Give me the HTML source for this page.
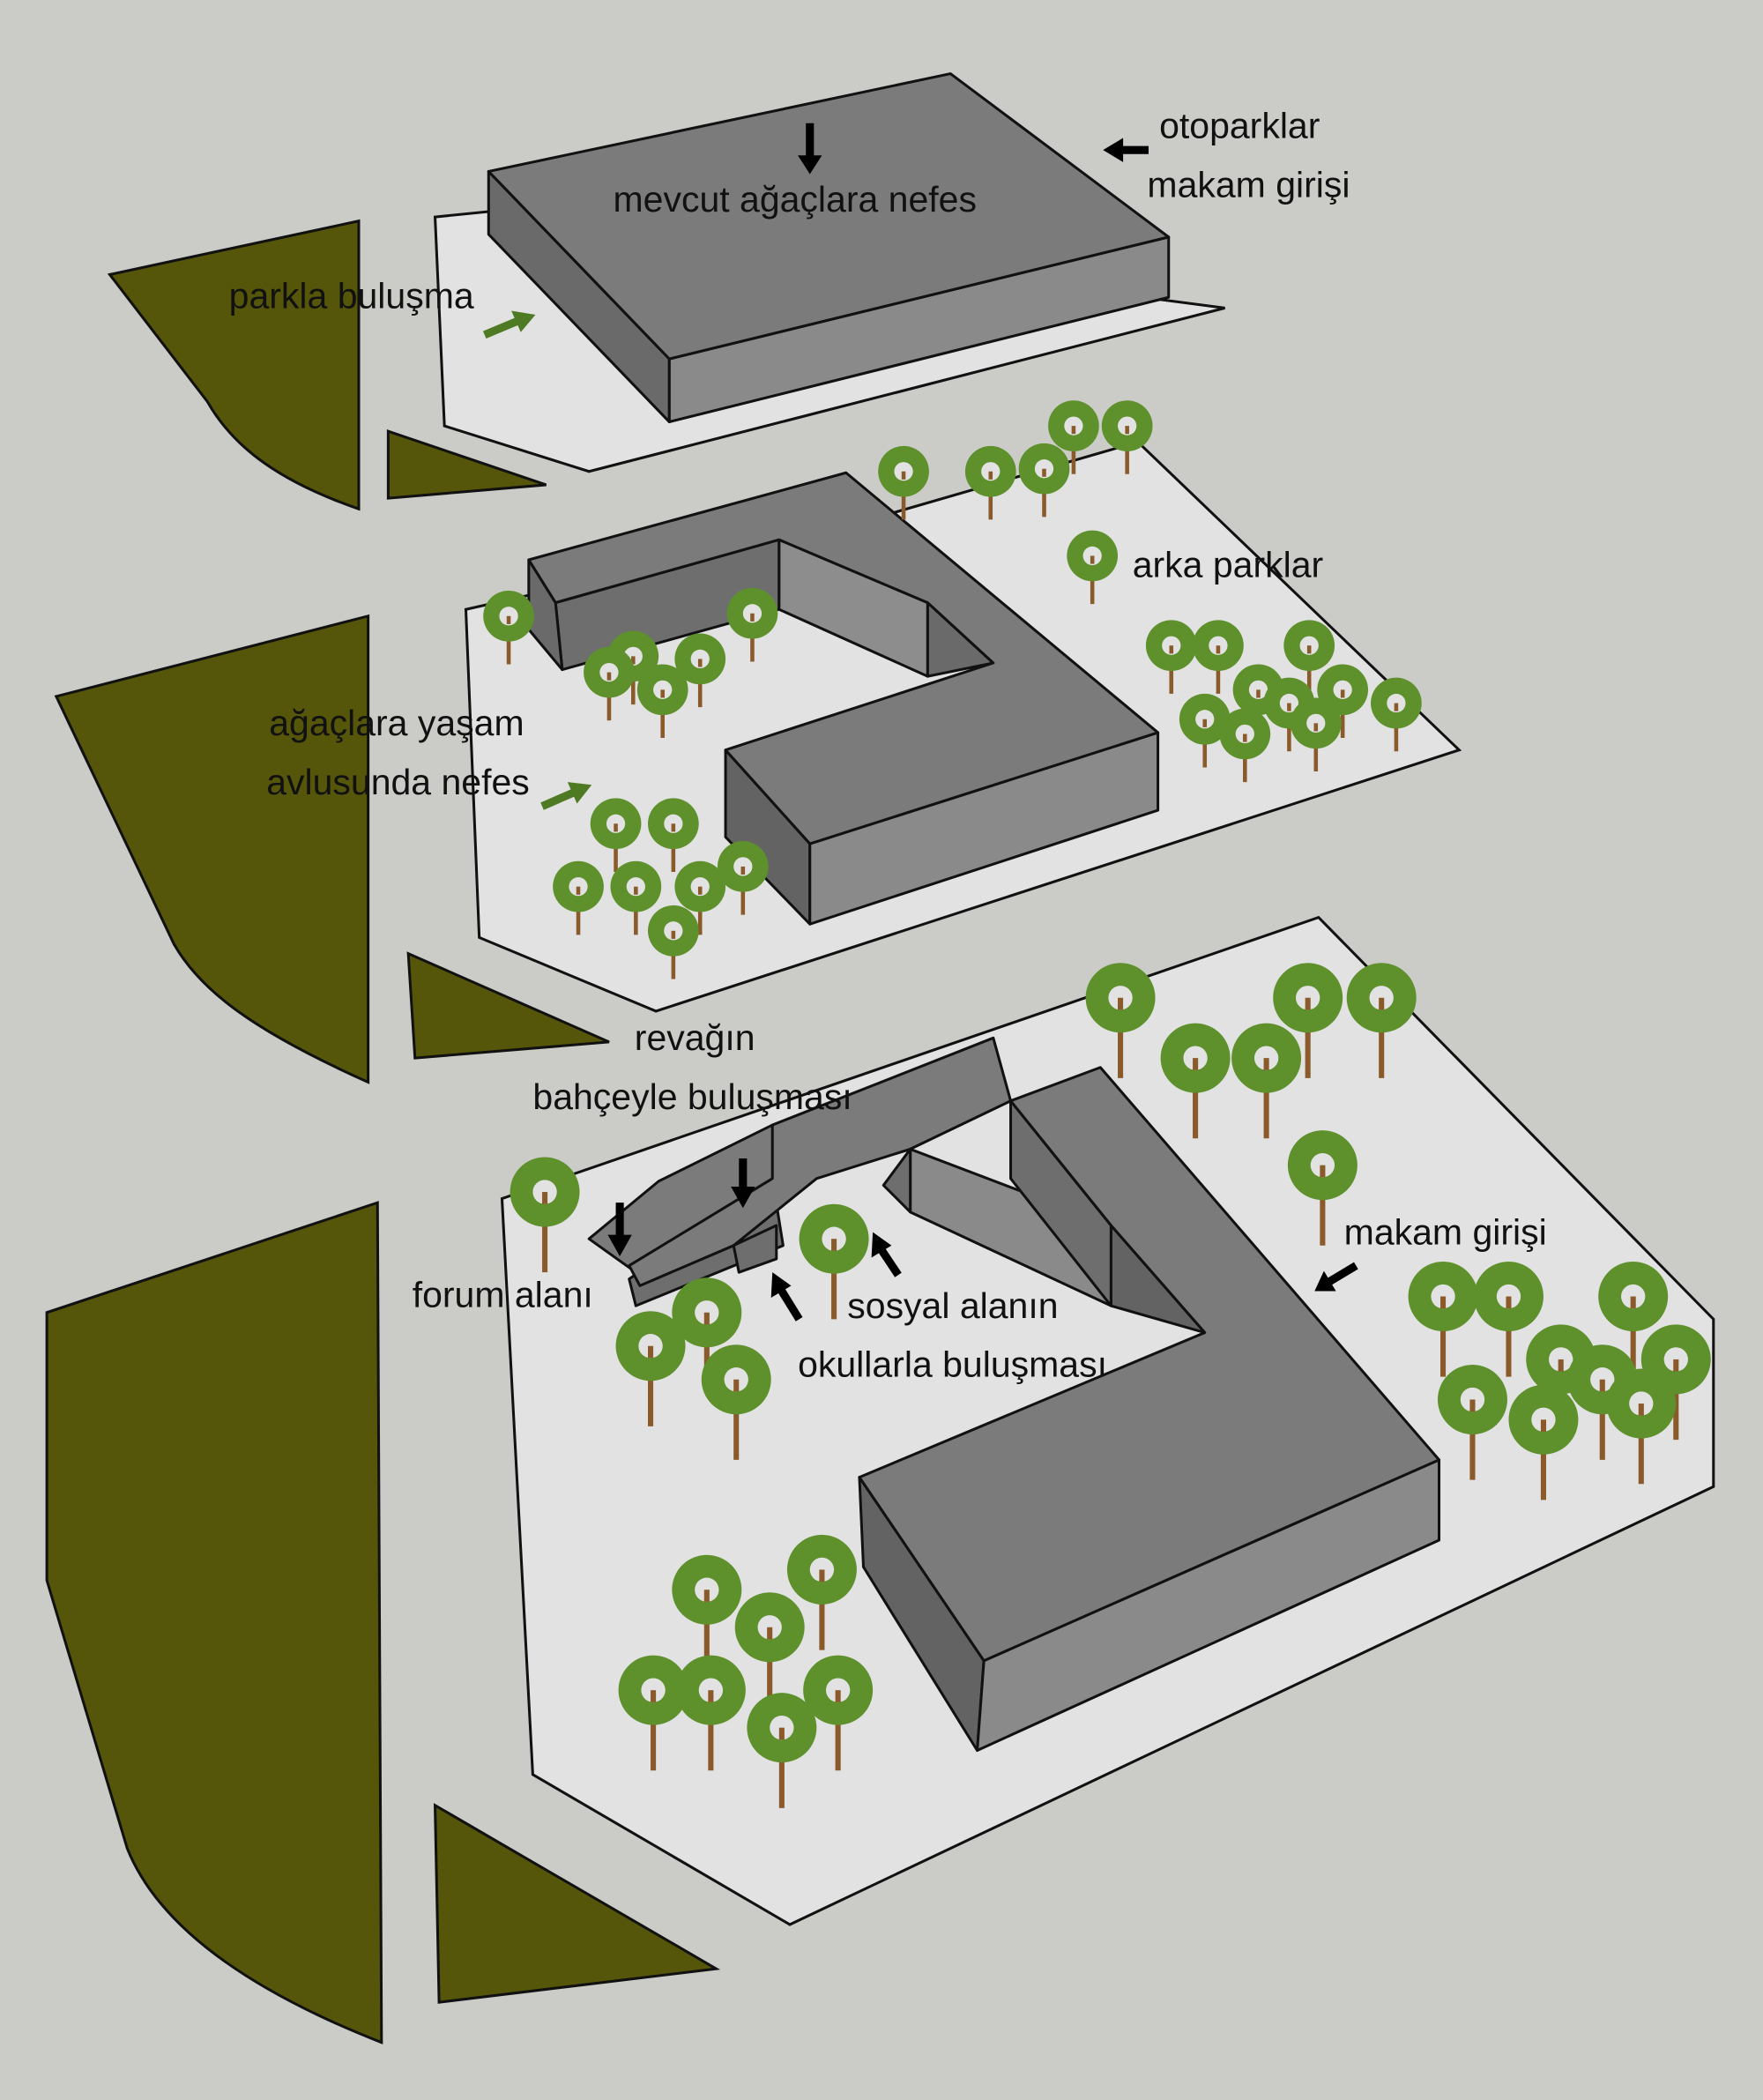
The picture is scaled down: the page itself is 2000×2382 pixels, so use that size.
<!DOCTYPE html>
<html><head><meta charset="utf-8"><style>html,body{margin:0;padding:0;background:#cbcbc8}svg{display:block}text{font-family:"Liberation Sans",sans-serif;font-size:27px;fill:#111}</style></head>
<body>
<svg width="2000" height="2382" viewBox="0 0 1317 1568" preserveAspectRatio="none" xmlns="http://www.w3.org/2000/svg">
<defs>
<symbol id="t" overflow="visible"><line x1="0" y1="0" x2="0" y2="36" stroke="#8a5a2a" stroke-width="3"/><circle r="19" fill="#5e902c"/><circle r="7" fill="#e2e2e2"/><line x1="0" y1="0" x2="0" y2="6" stroke="#8a5a2a" stroke-width="3"/></symbol>
<symbol id="T" overflow="visible"><line x1="0" y1="0" x2="0" y2="60" stroke="#8a5a2a" stroke-width="4"/><circle r="26" fill="#5e902c"/><circle r="9" fill="#e2e2e2"/><line x1="0" y1="0" x2="0" y2="9" stroke="#8a5a2a" stroke-width="4"/></symbol>
</defs>
<rect width="1317" height="1568" fill="#cbcbc8"/>
<g fill="#56560b" stroke="#111" stroke-width="2">
<path d="M82 205 L268 165 L268 380 C210 360 175 335 155 300 Z"/>
<path d="M290 322 L408 362 L290 372Z"/>
<path d="M42 520 L275 460 L275 808 C190 770 150 740 130 705 Z"/>
<path d="M305 712 L455 778 L310 790Z"/>
<path d="M35 980 L282 898 L285 1525 C170 1480 115 1430 95 1380 L35 1180Z"/>
<path d="M325 1348 L535 1470 L328 1495Z"/>
</g>
<g fill="#e2e2e2" stroke="#111" stroke-width="2">
<path d="M325 162 L365 158 L915 230 L440 352 L332 318Z"/>
<path d="M348 455 L660 385 L850 330 L1090 560 L490 755 L358 700Z"/>
<path d="M375 895 L985 685 L1280 985 L1280 1110 L590 1437 L398 1325Z"/>
</g>
<g stroke="#111" stroke-width="2" stroke-linejoin="round">
<path d="M365 128 L500 268 L500 315 L365 175Z" fill="#6a6a6a"/>
<path d="M500 268 L873 177 L873 222 L500 315Z" fill="#8a8a8a"/>
<path d="M365 128 L710 55 L873 177 L500 268Z" fill="#7b7b7b"/>
<path d="M415 450 L582 403 L582 455 L420 500Z" fill="#6e6e6e"/>
<path d="M582 403 L693 450 L693 505 L582 455Z" fill="#8d8d8d"/>
<path d="M693 450 L742 495 L693 505Z" fill="#6a6a6a"/>
<path d="M395 418 L415 450 L420 500 L395 470Z" fill="#6a6a6a"/>
<path d="M542 560 L605 630 L605 690 L542 625Z" fill="#636363"/>
<path d="M605 630 L865 547 L865 605 L605 690Z" fill="#8a8a8a"/>
<path d="M395 418 L632 353 L865 547 L605 630 L542 560 L742 495 L693 450 L582 403 L415 450Z" fill="#7b7b7b"/>
<path d="M470 955 L577 880 L585 930 L475 975Z" fill="#6e6e6e"/>
<path d="M440 925 L492 882 L577 840 L610 875 L475 950Z" fill="#7b7b7b"/>
<path d="M680 858 L830 915 L830 975 L680 905Z" fill="#8a8a8a"/>
<path d="M755 822 L830 915 L830 975 L755 880Z" fill="#6e6e6e"/>
<path d="M830 915 L900 995 L830 975Z" fill="#636363"/>
<path d="M642 1103 L735 1240 L730 1307 L645 1170Z" fill="#636363"/>
<path d="M735 1240 L1075 1090 L1075 1150 L730 1307Z" fill="#8a8a8a"/>
<path d="M577 840 L742 775 L755 822 L680 858 L610 880 L548 930 L478 960 L470 945 L577 880Z" fill="#7b7b7b"/>
<path d="M755 822 L822 797 L1075 1090 L735 1240 L642 1103 L900 995 L830 915Z" fill="#7b7b7b"/>
<path d="M548 930 L580 915 L580 940 L552 950Z" fill="#6e6e6e"/>
<path d="M660 885 L680 858 L680 905Z" fill="#6e6e6e"/>
</g>
<g>
<use href="#t" x="675" y="352"/><use href="#t" x="740" y="352"/><use href="#t" x="780" y="350"/><use href="#t" x="802" y="318"/><use href="#t" x="842" y="318"/><use href="#t" x="816" y="415"/><use href="#t" x="380" y="460"/><use href="#t" x="562" y="458"/><use href="#t" x="473" y="490"/><use href="#t" x="455" y="502"/><use href="#t" x="523" y="492"/><use href="#t" x="495" y="515"/><use href="#t" x="875" y="482"/><use href="#t" x="910" y="482"/><use href="#t" x="978" y="482"/><use href="#t" x="940" y="515"/><use href="#t" x="1003" y="515"/><use href="#t" x="963" y="525"/><use href="#t" x="1043" y="525"/><use href="#t" x="900" y="537"/><use href="#t" x="983" y="540"/><use href="#t" x="930" y="548"/><use href="#t" x="460" y="615"/><use href="#t" x="503" y="615"/><use href="#t" x="555" y="647"/><use href="#t" x="432" y="662"/><use href="#t" x="475" y="662"/><use href="#t" x="523" y="662"/><use href="#t" x="503" y="695"/>
<use href="#T" x="837" y="745"/><use href="#T" x="977" y="745"/><use href="#T" x="1032" y="745"/><use href="#T" x="893" y="790"/><use href="#T" x="946" y="790"/><use href="#T" x="988" y="870"/><use href="#T" x="407" y="890"/><use href="#T" x="623" y="925"/><use href="#T" x="528" y="980"/><use href="#T" x="486" y="1005"/><use href="#T" x="550" y="1030"/><use href="#T" x="1078" y="968"/><use href="#T" x="1127" y="968"/><use href="#T" x="1220" y="968"/><use href="#T" x="1166" y="1015"/><use href="#T" x="1252" y="1015"/><use href="#T" x="1197" y="1030"/><use href="#T" x="1100" y="1045"/><use href="#T" x="1226" y="1048"/><use href="#T" x="1153" y="1060"/><use href="#T" x="614" y="1172"/><use href="#T" x="528" y="1187"/><use href="#T" x="575" y="1215"/><use href="#T" x="488" y="1262"/><use href="#T" x="531" y="1262"/><use href="#T" x="626" y="1262"/><use href="#T" x="584" y="1290"/>
</g>
<g stroke-linecap="butt">
<g stroke="#000" stroke-width="6" fill="#000">
<line x1="605" y1="92" x2="605" y2="118"/><path d="M596 116 L614 116 L605 130Z" stroke="none"/>
<line x1="858" y1="112" x2="837" y2="112"/><path d="M839 103 L839 121 L824 112Z" stroke="none"/>
<line x1="1013" y1="945" x2="993" y2="957"/><path d="M989 949 L998 964 L982 964Z" stroke="none"/>
<line x1="463" y1="898" x2="463" y2="924"/><path d="M454 922 L472 922 L463 938Z" stroke="none"/>
<line x1="555" y1="865" x2="555" y2="888"/><path d="M546 886 L564 886 L555 902Z" stroke="none"/>
<line x1="597" y1="985" x2="584" y2="964"/><path d="M576 969 L591 960 L577 950Z" stroke="none"/>
<line x1="671" y1="952" x2="659" y2="934"/><path d="M651 939 L666 930 L652 920Z" stroke="none"/>
</g>
<g stroke="#4d7a22" stroke-width="6" fill="#4d7a22">
<line x1="362" y1="250" x2="386" y2="240"/><path d="M382 232 L389 248 L400 235Z" stroke="none"/>
<line x1="405" y1="602" x2="428" y2="592"/><path d="M424 584 L431 600 L442 586Z" stroke="none"/>
</g>
</g>
<text x="458" y="158">mevcut ağaçlara nefes</text>
<text x="866" y="103">otoparklar</text>
<text x="857" y="147">makam girişi</text>
<text x="171" y="230">parkla buluşma</text>
<text x="846" y="431">arka parklar</text>
<text x="201" y="549">ağaçlara yaşam</text>
<text x="199" y="593">avlusunda nefes</text>
<text x="474" y="784">revağın</text>
<text x="398" y="828">bahçeyle buluşması</text>
<text x="308" y="976">forum alanı</text>
<text x="633" y="984">sosyal alanın</text>
<text x="596" y="1028">okullarla buluşması</text>
<text x="1004" y="929">makam girişi</text>
</svg>
</body></html>
